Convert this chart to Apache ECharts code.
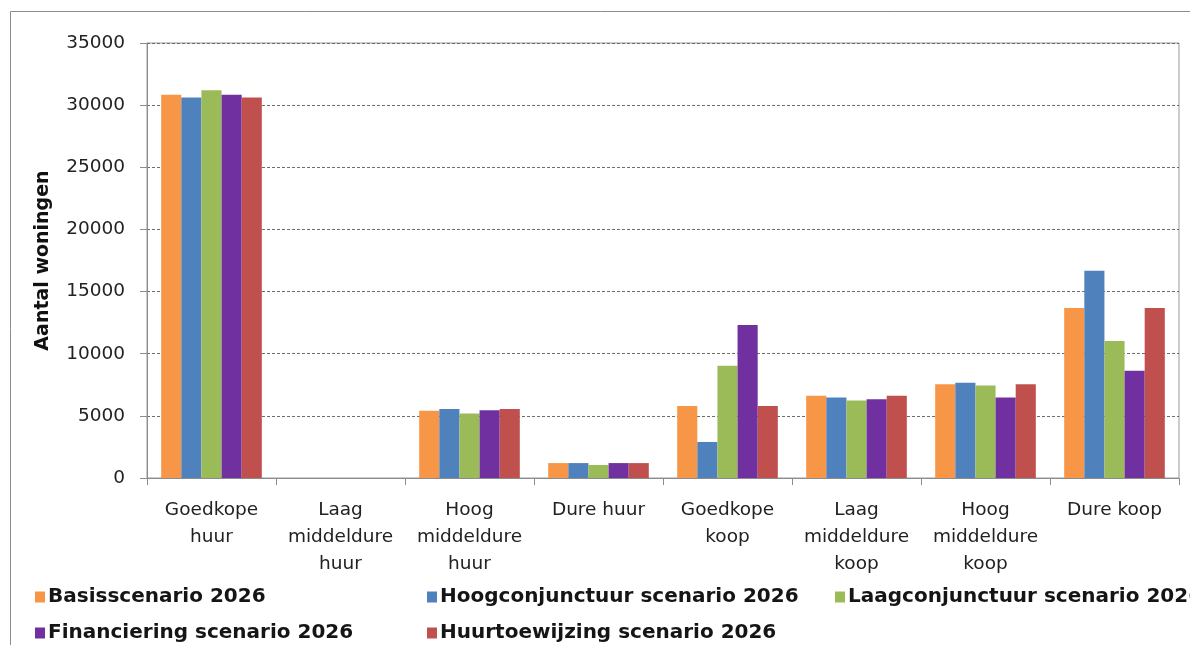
<!DOCTYPE html>
<html>
<head>
<meta charset="utf-8">
<script src="https://cdn.jsdelivr.net/npm/echarts@6/dist/echarts.min.js"></script>
<style>
  html, body { margin: 0; padding: 0; background: #fff; }
  #chart { width: 1190px; height: 645px; }
</style>
</head>
<body>
<div id="chart"></div>
<script>
// Housing stock per segment, per scenario (number of dwellings)
const categories = [
  'Goedkope\nhuur', 'Laag\nmiddeldure\nhuur', 'Hoog\nmiddeldure\nhuur', 'Dure huur',
  'Goedkope\nkoop', 'Laag\nmiddeldure\nkoop', 'Hoog\nmiddeldure\nkoop', 'Dure koop'
];
const seriesNames = [
  'Basisscenario 2026',
  'Hoogconjunctuur scenario 2026',
  'Laagconjunctuur scenario 2026',
  'Financiering scenario 2026',
  'Huurtoewijzing scenario 2026'
];
const basis        = [30830, 0, 5420, 1200, 5800, 6620, 7550, 13680];
const hoogconj     = [30610, 0, 5560, 1200, 2900, 6480, 7660, 16680];
const laagconj     = [31200, 0, 5190, 1050, 9040, 6240, 7440, 11030];
const financiering = [30830, 0, 5450, 1200, 12310, 6340, 6480, 8620];
const huurtoewijz  = [30610, 0, 5560, 1200, 5800, 6620, 7550, 13680];
const yTicks = [0, 5000, 10000, 15000, 20000, 25000, 30000, 35000];

const colors = ['#F79646', '#4F81BD', '#9BBB59', '#7030A0', '#C0504D'];
const values = [basis, hoogconj, laagconj, financiering, huurtoewijz];

// legend positions: two rows
const legendPos = [
  { left: 35, top: 587 },
  { left: 427, top: 587 },
  { left: 835, top: 587 },
  { left: 35, top: 623 },
  { left: 427, top: 623 }
];

const chart = echarts.init(document.getElementById('chart'));

chart.setOption({
  animation: false,
  color: colors,
  graphic: [{
    type: 'rect',
    shape: { x: 10.5, y: 11.5, width: 1300, height: 800 },
    style: { fill: 'none', stroke: '#8c8c8c', lineWidth: 1 },
    silent: true,
    z: -1
  }],
  grid: {
    left: 147, right: 11, top: 43, bottom: 167,
    show: true, borderColor: '#9a9a9a', borderWidth: 1, backgroundColor: 'transparent'
  },
  legend: seriesNames.map((n, i) => ({
    data: [n],
    left: legendPos[i].left,
    top: legendPos[i].top,
    padding: 0,
    itemWidth: 10,
    itemHeight: 11,
    itemGap: 0,
    icon: 'rect',
    selectedMode: false,
    textStyle: {
      fontFamily: 'DejaVu Sans',
      fontWeight: 'bold',
      fontSize: 20,
      color: '#151515',
      padding: [0, 0, 0, -2]
    }
  })),
  xAxis: {
    type: 'category',
    data: categories,
    axisLine: { lineStyle: { color: '#8c8c8c', width: 1 } },
    axisTick: { show: true, length: 7, lineStyle: { color: '#8c8c8c' } },
    axisLabel: {
      interval: 0,
      margin: 19,
      fontFamily: 'DejaVu Sans',
      fontSize: 18.5,
      lineHeight: 27,
      color: '#222'
    }
  },
  yAxis: {
    type: 'value',
    min: 0,
    max: 35000,
    interval: 5000,
    name: 'Aantal woningen',
    nameLocation: 'middle',
    nameRotate: 90,
    nameGap: 94,
    nameTextStyle: {
      fontFamily: 'DejaVu Sans',
      fontWeight: 'bold',
      fontSize: 19,
      color: '#111'
    },
    axisLine: { show: true, lineStyle: { color: '#8c8c8c', width: 1 } },
    axisTick: { show: true, length: 7, lineStyle: { color: '#8c8c8c' } },
    axisLabel: {
      margin: 22,
      fontFamily: 'DejaVu Sans',
      fontSize: 18.5,
      color: '#222',
      formatter: v => (yTicks.includes(v) ? String(v) : '')
    },
    splitLine: {
      show: true,
      lineStyle: { color: '#6e6e6e', type: [3, 2], width: 1 }
    }
  },
  series: seriesNames.map((n, i) => ({
    name: n,
    type: 'bar',
    data: values[i],
    barGap: '0%',
    barCategoryGap: '22%',
    itemStyle: { color: colors[i] }
  }))
});
</script>
</body>
</html>
